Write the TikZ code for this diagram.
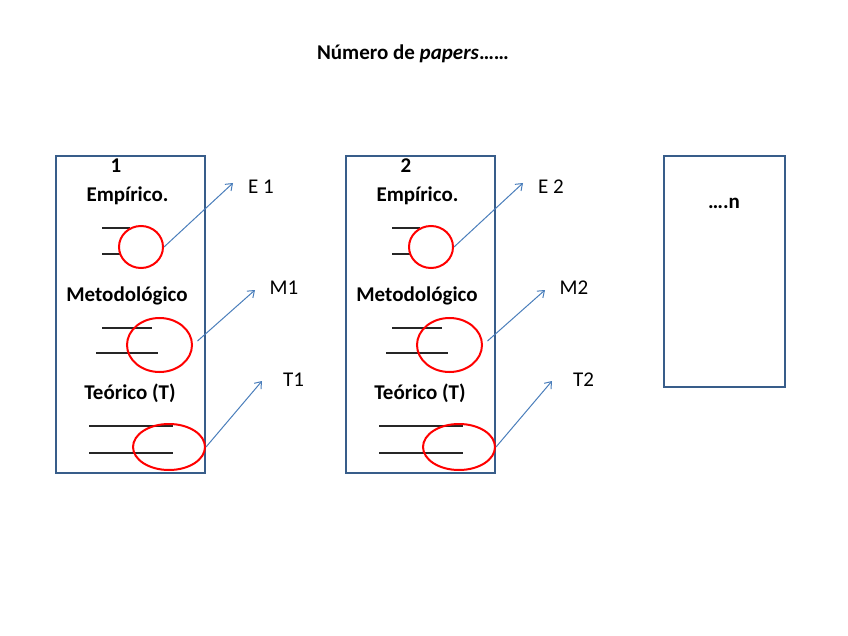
\documentclass[tikz,border=0pt]{standalone}
\usepackage{fontspec}
\setmainfont{Carlito}
\usetikzlibrary{shapes.geometric,arrows.meta}
\definecolor{boxblue}{RGB}{56,93,138}
\definecolor{arrowblue}{RGB}{74,126,187}

\begin{document}
\begin{tikzpicture}[x=1pt,y=-1pt,
  panel/.style={draw=boxblue, line width=2.5pt, inner sep=0pt},
  heading/.style={font=\fontsize{21}{25}\selectfont\bfseries, anchor=base, inner sep=0pt},
  tag/.style={font=\fontsize{21}{25}\selectfont, anchor=base, inner sep=0pt},
  ring/.style={draw=red, line width=2pt, ellipse, inner sep=0pt},
  blank/.style={black!85, line width=1.2pt},
  pointer/.style={arrowblue, line width=1pt, -{Straight Barb[length=6pt,width=9pt]}}]
  \useasboundingbox (0,0) rectangle (848,636);

  \node[heading] (title) at (413,60) {Número de \textit{papers}……};

  \foreach \i/\dx in {1/0,2/290}{
    \node[panel, minimum width=149pt, minimum height=317pt] (box\i) at (130.5+\dx,314.5) {};
    \node[heading] (num\i) at (116+\dx,173) {\i};
    \node[heading] (emp\i) at (127.5+\dx,202) {Empírico.};
    \node[heading] (met\i) at (127+\dx,301) {Metodológico};
    \node[heading] (teo\i) at (130+\dx,399) {Teórico (T)};

    % blanks to fill in
    \draw[blank] (102+\dx,228) -- (130+\dx,228);
    \draw[blank] (102+\dx,254) -- (120+\dx,254);
    \draw[blank] (102+\dx,328) -- (152+\dx,328);
    \draw[blank] (96+\dx,353) -- (158+\dx,353);
    \draw[blank] (89+\dx,426) -- (173+\dx,426);
    \draw[blank] (89+\dx,453) -- (173+\dx,453);

    \node[ring, minimum width=44pt, minimum height=42pt] (e\i) at (141+\dx,247) {};
    \node[ring, minimum width=65pt, minimum height=54pt] (m\i) at (159.5+\dx,345) {};
    \node[ring, minimum width=72pt, minimum height=46pt] (t\i) at (169+\dx,447) {};

    \node[tag] (elab\i) at (261+\dx,194) {E \i};
    \node[tag] (mlab\i) at (284+\dx,294) {M\i};
    \node[tag] (tlab\i) at (293.5+\dx,386) {T\i};

    \coordinate (etip\i) at (233+\dx,183);
    \coordinate (mtip\i) at (255+\dx,290);
    \coordinate (ttip\i) at (262+\dx,381);
    \draw[pointer] (e\i.east) -- (etip\i);
    \draw[pointer, shorten <=6pt] (m\i.east) -- (mtip\i);
    \draw[pointer] (t\i.east) -- (ttip\i);
  }

  \node[panel, minimum width=121pt, minimum height=231pt] (box3) at (724.5,271.5) {};
  \node[heading] (more) at (724,209) {….n};
\end{tikzpicture}
\end{document}
